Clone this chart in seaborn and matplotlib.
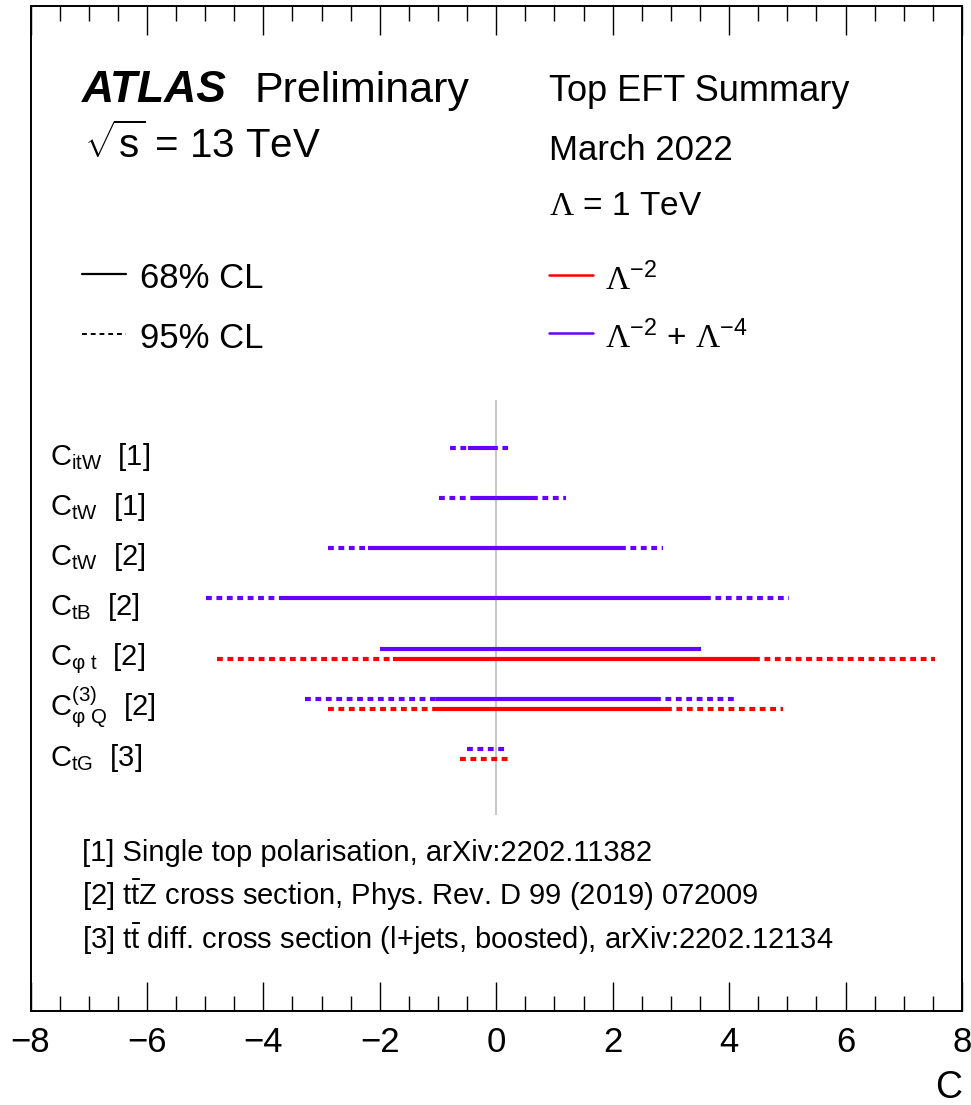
import numpy as np
import pandas as pd
import matplotlib
matplotlib.use("Agg")
import matplotlib.pyplot as plt
from matplotlib.ticker import MultipleLocator
import seaborn as sns

# ---------------- data ----------------
operators = [r"$\mathsf{C_{itW}}$  [1]", r"$\mathsf{C_{tW}}$  [1]", r"$\mathsf{C_{tW}}$  [2]",
             r"$\mathsf{C_{tB}}$  [2]", r"$\mathsf{C_{φ\ t}}$  [2]",
             r"$\mathsf{C^{(3)}_{φ\ Q}}$  [2]", r"$\mathsf{C_{tG}}$  [3]"]
# Lambda^-2 + Lambda^-4 (purple)
quad_lo95 = [-0.79, -0.98, -2.89, -4.99, np.nan, -3.29, -0.51]
quad_lo68 = [-0.48, -0.43, -2.20, -3.69, -1.99, -1.03, np.nan]
quad_hi68 = [-0.08, 0.61, 2.12, 3.58, 3.51, 2.72, np.nan]
quad_hi95 = [0.20, 1.19, 2.86, 5.03, np.nan, 4.15, 0.16]
# Lambda^-2 only (red)
lin_lo95 = [np.nan, np.nan, np.nan, np.nan, -4.80, -2.89, -0.62]
lin_lo68 = [np.nan, np.nan, np.nan, np.nan, -1.78, -1.00, np.nan]
lin_hi68 = [np.nan, np.nan, np.nan, np.nan, 4.42, 2.91, np.nan]
lin_hi95 = [np.nan, np.nan, np.nan, np.nan, 7.53, 4.93, 0.21]

references = [
    "[1] Single top polarisation, arXiv:2202.11382",
    r"[2] t$\mathsf{\bar{t}}$Z cross section, Phys. Rev. D 99 (2019) 072009",
    r"[3] t$\mathsf{\bar{t}}$ diff. cross section (l+jets, boosted), arXiv:2202.12134",
]
xticks = [-8, -6, -4, -2, 0, 2, 4, 6, 8]

PURPLE = "#6600ff"
RED = "#ff0000"

# ------------- build segments -------------
rows = []
seg = 0
def add(x0, x1, y, order, cl):
    global seg
    if np.isnan(x0) or np.isnan(x1):
        return
    rows.append(dict(x=x0, y=y, seg=seg, order=order, cl=cl))
    rows.append(dict(x=x1, y=y, seg=seg, order=order, cl=cl))
    seg += 1

for i in range(len(operators)):
    yq = i
    yl = i + 0.2
    for (lo95, lo68, hi68, hi95, y, order) in [
        (quad_lo95[i], quad_lo68[i], quad_hi68[i], quad_hi95[i], yq, "quad"),
        (lin_lo95[i], lin_lo68[i], lin_hi68[i], lin_hi95[i], yl, "lin"),
    ]:
        if np.isnan(lo68):
            add(lo95, hi95, y, order, "95")
        else:
            add(lo95, lo68, y, order, "95")
            add(hi68, hi95, y, order, "95")
            add(lo68, hi68, y, order, "68")

df = pd.DataFrame(rows)

# ------------- figure -------------
sns.set_theme(style="ticks")
plt.rcParams["font.family"] = ["Liberation Sans", "DejaVu Sans"]
plt.rcParams["mathtext.fontset"] = "custom"
plt.rcParams["mathtext.rm"] = "Liberation Serif"
plt.rcParams["mathtext.sf"] = "Liberation Sans"
plt.rcParams["mathtext.it"] = "Liberation Sans:italic"
plt.rcParams["mathtext.bf"] = "Liberation Sans:bold"
plt.rcParams["text.color"] = "black"
plt.rcParams["axes.labelcolor"] = "black"
plt.rcParams["xtick.color"] = "black"
plt.rcParams["xtick.labelcolor"] = "black"

W, H = 971, 1105
fig = plt.figure(figsize=(W / 100, H / 100), dpi=100)
ax = fig.add_axes([30.5 / W, 1 - 1011 / H, (962 - 30.5) / W, (1011 - 6) / H])

# zero line
ax.plot([0, 0], [-0.95, 7.32], color="#c8c8c8", lw=1.5, zorder=1)

sns.lineplot(data=df, x="x", y="y", hue="order", style="cl", units="seg",
             estimator=None, sort=False, ax=ax, legend=False,
             palette={"quad": PURPLE, "lin": RED},
             dashes={"68": "", "95": (1.4, 1.1)},
             linewidth=3.0, zorder=3)
for l in ax.lines:
    l.set_solid_capstyle("butt")
    l.set_dash_capstyle("butt")

ax.set_xlim(-8, 8)
ax.set_ylim(11.22, -8.80)
ax.set_yticks([])
ax.set_ylabel("")
ax.set_xticks(xticks)
ax.set_xticklabels([f"{t}".replace("-", "\u2212") for t in xticks])
ax.xaxis.set_minor_locator(MultipleLocator(0.5))
ax.xaxis.set_ticks_position("both")
ax.tick_params(axis="x", which="major", direction="in", length=21, width=1.0,
               labelsize=25, pad=11, color="black", labelcolor="black", top=True, bottom=True)
ax.tick_params(axis="x", which="minor", direction="in", length=11, width=1.0,
               top=True, bottom=True, color="black")
for s in ax.spines.values():
    s.set_visible(True)
    s.set_color("black")
    s.set_linewidth(1.4)
ax.set_xlabel("C", loc="right", fontsize=27, labelpad=8, color="black")
ax.set_facecolor("white")
fig.patch.set_facecolor("white")

# operator labels
for i, lab in enumerate(operators):
    ax.text(-7.67, i + 0.34, lab, fontsize=21, ha="left", va="baseline", color="black")

def fx(px):
    return px / W
def fy(py):
    return 1 - py / H

# header
fig.text(fx(82), fy(102), "ATLAS", fontsize=32, fontweight="bold", fontstyle="italic", ha="left", va="baseline")
fig.text(fx(255), fy(102), "Preliminary", fontsize=31, ha="left", va="baseline")
fig.text(fx(84), fy(158), r"$\sqrt{\mathsf{s}}$ = 13 TeV", fontsize=29, ha="left", va="baseline")
fig.text(fx(549), fy(101), "Top EFT Summary", fontsize=26, ha="left", va="baseline")
fig.text(fx(549), fy(160), "March 2022", fontsize=25, ha="left", va="baseline")
fig.text(fx(549), fy(215), r"$\Lambda$ = 1 TeV", fontsize=24, ha="left", va="baseline")

# CL legend
fig.add_artist(plt.Line2D([fx(82), fx(126)], [fy(274), fy(274)], color="black", lw=1.6))
fig.text(fx(140), fy(288), "68% CL", fontsize=25, ha="left", va="baseline")
fig.add_artist(plt.Line2D([fx(82), fx(126)], [fy(334), fy(334)], color="black", lw=1.4,
                          linestyle=(0, (2.5, 2))))
fig.text(fx(140), fy(348), "95% CL", fontsize=25, ha="left", va="baseline")

# order legend
fig.add_artist(plt.Line2D([fx(549), fx(593)], [fy(275), fy(275)], color=RED, lw=1.8))
fig.text(fx(605), fy(290), r"$\Lambda^{\mathsf{-2}}$", fontsize=24, ha="left", va="baseline")
fig.add_artist(plt.Line2D([fx(549), fx(593)], [fy(333), fy(333)], color=PURPLE, lw=1.8))
fig.text(fx(605), fy(348), r"$\Lambda^{\mathsf{-2}}\ \mathsf{+}\ \Lambda^{\mathsf{-4}}$", fontsize=24, ha="left", va="baseline")

# references
for k, (ref, py) in enumerate(zip(references, [861, 905, 949])):
    fig.text(fx(82), fy(py), ref, fontsize=21, ha="left", va="baseline")

fig.savefig("out.png", dpi=100)
